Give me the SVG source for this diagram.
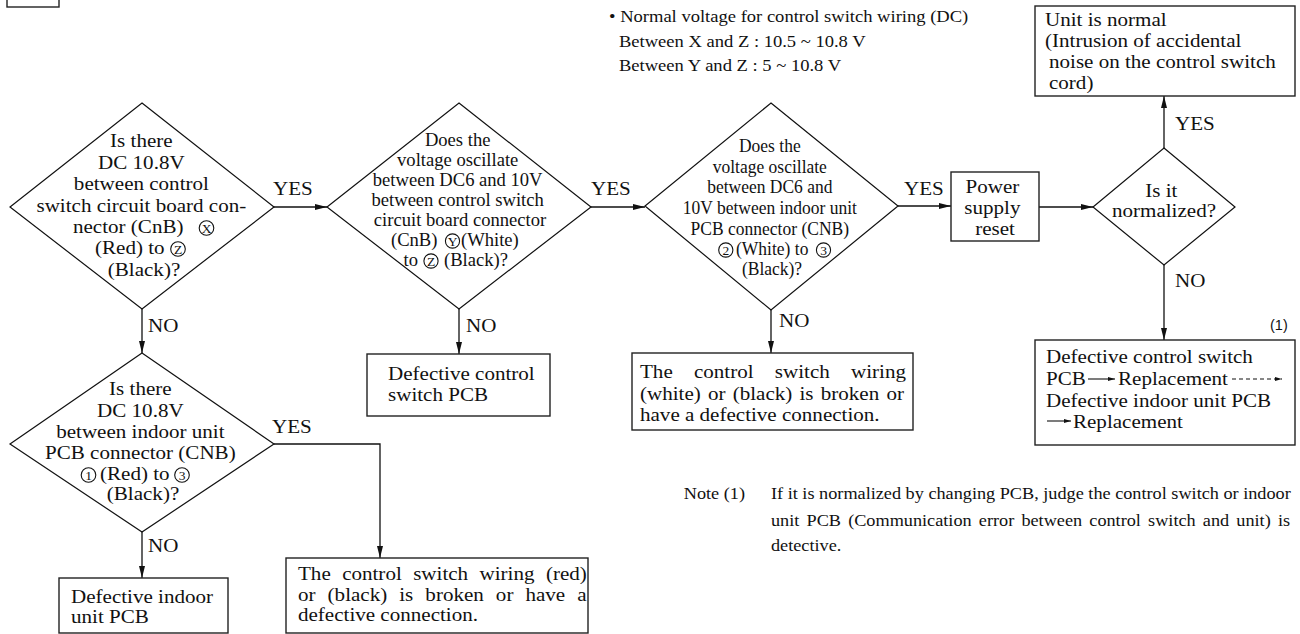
<svg xmlns="http://www.w3.org/2000/svg" width="1300" height="634" viewBox="0 0 1300 634">
<style>
.t{font-family:"Liberation Serif","Times New Roman",serif;font-size:19.5px;fill:#111}
.t2{font-family:"Liberation Serif","Times New Roman",serif;font-size:18.5px;fill:#111}
.n{font-family:"Liberation Serif","Times New Roman",serif;font-size:16px;fill:#111}
.cl{font-family:"Liberation Serif","Times New Roman",serif;font-size:13.5px;fill:#111;text-anchor:middle}
.ring{fill:none;stroke:#111;stroke-width:1.1}
.s{font-family:"Liberation Sans",Arial,sans-serif;font-size:14.5px;fill:#111}
.box{fill:#fff;stroke:#222;stroke-width:1.4}
.dia{fill:#fff;stroke:#111;stroke-width:1.2}
.ln{fill:none;stroke:#111;stroke-width:1.3}
.sm{fill:none;stroke:#111;stroke-width:1.1}
</style>
<defs>
<marker id="ah" markerUnits="userSpaceOnUse" markerWidth="12" markerHeight="6" refX="12" refY="3" orient="auto">
<path d="M0,0 L12,3 L0,6 z" fill="#111"/>
</marker>
<marker id="as" markerUnits="userSpaceOnUse" markerWidth="7" markerHeight="4" refX="7" refY="2" orient="auto">
<path d="M0,0 L7,2 L0,4 z" fill="#111"/>
</marker>
</defs>
<rect width="1300" height="634" fill="#fff"/>

<g id="corner-box"><rect class="box" x="7" y="-10" width="52" height="17"/></g>

<g id="note-top">
<text class="n" transform="translate(609 0) scale(1.16 1)"><tspan x="0" y="22">• Normal voltage for control switch wiring (DC)</tspan><tspan x="8.6" y="46.7">Between X and Z : 10.5 ~ 10.8 V</tspan><tspan x="8.6" y="70.7">Between Y and Z : 5 ~ 10.8 V</tspan></text>
</g>

<g id="connectors">
<path class="ln" d="M274,207 H327" marker-end="url(#ah)"/>
<path class="ln" d="M591,207 H645" marker-end="url(#ah)"/>
<path class="ln" d="M898,206 H951" marker-end="url(#ah)"/>
<path class="ln" d="M1039,207 H1093" marker-end="url(#ah)"/>
<path class="ln" d="M1164,148 V96" marker-end="url(#ah)"/>
<path class="ln" d="M1164,265 V340" marker-end="url(#ah)"/>
<path class="ln" d="M142,309 V353" marker-end="url(#ah)"/>
<path class="ln" d="M459,309 V354" marker-end="url(#ah)"/>
<path class="ln" d="M771,310 V353" marker-end="url(#ah)"/>
<path class="ln" d="M142,532 V578" marker-end="url(#ah)"/>
<path class="ln" d="M274,444 H380 V558" marker-end="url(#ah)"/>
<text class="t" transform="translate(273 0) scale(1.08 1)"><tspan x="0" y="195">YES</tspan></text>
<text class="t" transform="translate(591 0) scale(1.08 1)"><tspan x="0" y="195">YES</tspan></text>
<text class="t" transform="translate(904 0) scale(1.08 1)"><tspan x="0" y="195">YES</tspan></text>
<text class="t" transform="translate(1175 0) scale(1.08 1)"><tspan x="0" y="130">YES</tspan></text>
<text class="t" transform="translate(272 0) scale(1.08 1)"><tspan x="0" y="433">YES</tspan></text>
<text class="t" transform="translate(148 0) scale(1.08 1)"><tspan x="0" y="332">NO</tspan></text>
<text class="t" transform="translate(466 0) scale(1.08 1)"><tspan x="0" y="332">NO</tspan></text>
<text class="t" transform="translate(779 0) scale(1.08 1)"><tspan x="0" y="327">NO</tspan></text>
<text class="t" transform="translate(1175 0) scale(1.08 1)"><tspan x="0" y="287">NO</tspan></text>
<text class="t" transform="translate(148 0) scale(1.08 1)"><tspan x="0" y="552">NO</tspan></text>
</g>

<g id="q1-dc108-cnb">
<polygon class="dia" points="142,103 274,207 142,309 10,207"/>
<text class="t" text-anchor="middle" transform="translate(144 0) scale(1.08 1)">
<tspan x="0" y="147">Is there</tspan>
<tspan x="0" y="169">DC 10.8V</tspan>
<tspan x="0" y="190">between control</tspan>
<tspan x="0" y="212">switch circuit board con-</tspan>
<tspan x="0" y="276">(Black)?</tspan>
</text>
<text class="t" transform="translate(73 0) scale(1.08 1)" x="0" y="233">nector (CnB)</text>
<circle class="ring" cx="206.5" cy="228" r="7.3"/>
<text class="cl" x="206.5" y="232.7">X</text>
<text class="t" transform="translate(95 0) scale(1.08 1)" x="0" y="254">(Red) to</text>
<circle class="ring" cx="178" cy="249" r="7.3"/>
<text class="cl" x="178" y="253.7">Z</text>
</g>

<g id="q2-oscillate-cnb">
<polygon class="dia" points="459,103 591,207 459,309 327,207"/>
<text class="t2" text-anchor="middle" transform="translate(460 0) scale(1.005 1)">
<tspan x="0" y="146">Does the</tspan>
<tspan x="0" y="166">voltage oscillate</tspan>
<tspan x="0" y="186">between DC6 and 10V</tspan>
<tspan x="0" y="206">between control switch</tspan>
<tspan x="0" y="226">circuit board connector</tspan>
</text>
<text class="t2" transform="translate(391 0) scale(1.005 1)" x="0" y="246">(CnB)</text>
<circle class="ring" cx="452.5" cy="241" r="7.1"/>
<text class="cl" x="452.5" y="245.7">Y</text>
<text class="t2" transform="translate(461 0) scale(1.005 1)" x="0" y="246">(White)</text>
<text class="t2" transform="translate(403.5 0) scale(1.005 1)" x="0" y="266">to</text>
<circle class="ring" cx="431" cy="261" r="7.1"/>
<text class="cl" x="431" y="265.7">Z</text>
<text class="t2" transform="translate(444 0) scale(1.005 1)" x="0" y="266">(Black)?</text>
</g>

<g id="q3-oscillate-indoor">
<polygon class="dia" points="771,103 898,206 771,310 645,206"/>
<text class="t2" text-anchor="middle" transform="translate(772 0) scale(0.946 1)">
<tspan x="0" y="152">Does the</tspan>
<tspan x="0" y="173">voltage oscillate</tspan>
<tspan x="0" y="193">between DC6 and</tspan>
<tspan x="0" y="214">10V between indoor unit</tspan>
<tspan x="0" y="235">PCB connector (CNB)</tspan>
<tspan x="0" y="275">(Black)?</tspan>
</text>
<circle class="ring" cx="725.8" cy="250" r="7.1"/>
<text class="cl" x="725.8" y="254.7">2</text>
<text class="t2" transform="translate(736 0) scale(0.946 1)" x="0" y="255">(White) to</text>
<circle class="ring" cx="823.5" cy="250" r="7.1"/>
<text class="cl" x="823.5" y="254.7">3</text>
</g>

<g id="power-reset">
<rect class="box" x="951" y="172" width="88" height="69"/>
<text class="t" text-anchor="middle" transform="translate(995 0) scale(1.08 1)">
<tspan x="0" y="193">Power</tspan>
<tspan x="0" y="214">supply</tspan>
<tspan x="0" y="235">reset</tspan>
</text>
</g>

<g id="q4-normalized">
<polygon class="dia" points="1164,148 1235,207 1164,265 1093,207"/>
<text class="t" text-anchor="middle" transform="translate(1164 0) scale(1.08 1)">
<tspan x="0" y="197">Is it</tspan>
<tspan x="0" y="217">normalized?</tspan>
</text>
</g>

<g id="unit-normal">
<rect class="box" x="1035" y="6" width="260" height="90"/>
<text class="t" transform="translate(1045 0) scale(1.08 1)">
<tspan x="0" y="26">Unit is normal</tspan>
<tspan x="0" y="47">(Intrusion of accidental</tspan>
<tspan x="3.7" y="68">noise on the control switch</tspan>
<tspan x="3.7" y="89">cord)</tspan>
</text>
</g>

<g id="replace-pcb">
<rect class="box" x="1035" y="340" width="260" height="105"/>
<text class="s" x="1270" y="330">(1)</text>
<text class="t" transform="translate(1046 0) scale(1.08 1)">
<tspan x="0" y="363">Defective control switch</tspan>
<tspan x="0" y="385">PCB</tspan>
<tspan x="66.7" y="385">Replacement</tspan>
<tspan x="0" y="407">Defective indoor unit PCB</tspan>
<tspan x="25" y="428">Replacement</tspan>
</text>
<path class="sm" d="M1088,379 H1115" marker-end="url(#as)"/>
<path class="sm" d="M1232,379 H1282" stroke-dasharray="4,3" marker-end="url(#as)"/>
<path class="sm" d="M1047,421 H1071" marker-end="url(#as)"/>
</g>

<g id="defective-switch-pcb">
<rect class="box" x="367" y="354" width="183" height="62"/>
<text class="t" transform="translate(388 0) scale(1.08 1)">
<tspan x="0" y="380">Defective control</tspan>
<tspan x="0" y="401">switch PCB</tspan>
</text>
</g>

<g id="wiring-white-black">
<rect class="box" x="632" y="353" width="281" height="77"/>
<text class="t" transform="translate(640 0) scale(1.08 1)">
<tspan x="0" y="378" word-spacing="14.8">The control switch wiring</tspan>
<tspan x="0" y="400" word-spacing="1.8">(white) or (black) is broken or</tspan>
<tspan x="0" y="421.5">have a defective connection.</tspan>
</text>
</g>

<g id="q5-dc108-indoor">
<polygon class="dia" points="142,353 274,444 142,532 10,444"/>
<text class="t" text-anchor="middle" transform="translate(143 0) scale(1.08 1)">
<tspan x="0" y="395">Is there</tspan>
<tspan x="0" y="417">DC 10.8V</tspan>
<tspan x="0" y="438">between indoor unit</tspan>
<tspan x="0" y="459">PCB connector (CNB)</tspan>
<tspan x="0" y="500">(Black)?</tspan>
</text>
<circle class="ring" cx="88.5" cy="475" r="7.3"/>
<text class="cl" x="88.5" y="479.7">1</text>
<text class="t" transform="translate(100 0) scale(1.08 1)" x="0" y="480">(Red) to</text>
<circle class="ring" cx="182" cy="475" r="7.3"/>
<text class="cl" x="182" y="479.7">3</text>
</g>

<g id="defective-indoor-pcb">
<rect class="box" x="59" y="578" width="169" height="55"/>
<text class="t" transform="translate(71 0) scale(1.08 1)">
<tspan x="0" y="603">Defective indoor</tspan>
<tspan x="0" y="623">unit PCB</tspan>
</text>
</g>

<g id="wiring-red-black">
<rect class="box" x="286" y="558" width="302" height="75"/>
<text class="t" transform="translate(298 0) scale(1.08 1)">
<tspan x="0" y="580" word-spacing="5.7">The control switch wiring (red)</tspan>
<tspan x="0" y="601.5" word-spacing="6.3">or (black) is broken or have a</tspan>
<tspan x="0" y="621.5">defective connection.</tspan>
</text>
</g>

<g id="note-footer">
<text class="n" text-anchor="end" transform="translate(745 0) scale(1.14 1)" x="0" y="499">Note (1)</text>
<text class="n" transform="translate(771 0) scale(1.14 1)">
<tspan x="0" y="499">If it is normalized by changing PCB, judge the control switch or indoor</tspan>
<tspan x="0" y="526" word-spacing="2.3">unit PCB (Communication error between control switch and unit) is</tspan>
<tspan x="0" y="551">detective.</tspan>
</text>
</g>
</svg>
